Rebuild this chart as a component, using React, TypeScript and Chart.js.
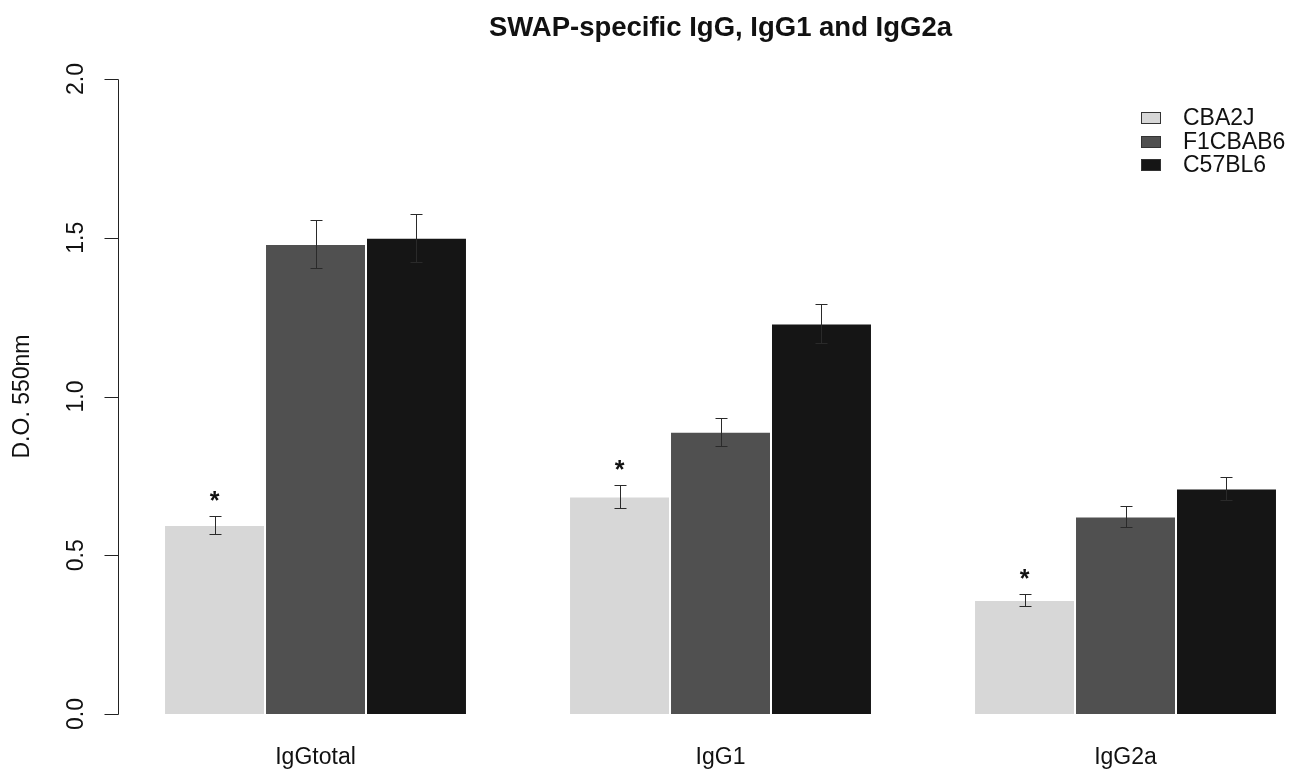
import React, { useEffect, useRef } from "react";
import { Chart, registerables } from "chart.js";

Chart.register(...registerables);

const titleText = "SWAP-specific IgG, IgG1 and IgG2a";
const yAxisTitle = "D.O. 550nm";
const categories = ["IgGtotal", "IgG1", "IgG2a"];
const seriesNames = ["CBA2J", "F1CBAB6", "C57BL6"];
const seriesColors = ["#d7d7d7", "#505050", "#151515"];

const cba2jValues = [0.595, 0.685, 0.359];
const cba2jErrors = [0.029, 0.036, 0.018];
const f1cbab6Values = [1.48, 0.889, 0.622];
const f1cbab6Errors = [0.075, 0.044, 0.033];
const c57bl6Values = [1.5, 1.23, 0.71];
const c57bl6Errors = [0.076, 0.061, 0.037];
const cba2jMarks = ["*", "*", "*"];

const yTicks = [0, 0.5, 1.0, 1.5, 2.0];
const yTickLabels = ["0.0", "0.5", "1.0", "1.5", "2.0"];

const seriesValues = [cba2jValues, f1cbab6Values, c57bl6Values];
const seriesErrors = [cba2jErrors, f1cbab6Errors, c57bl6Errors];
const seriesMarks = [cba2jMarks, null, null];

const FONT = "'Liberation Sans', Arial, Helvetica, sans-serif";
const TEXT = "#111111";

const decorPlugin = {
  id: "decor",
  afterDatasetsDraw(chart: any) {
    const ctx = chart.ctx;
    const y = chart.scales.y;
    ctx.save();
    ctx.strokeStyle = "#2a2a2a";
    ctx.lineWidth = 1;
    chart.data.datasets.forEach((ds: any, di: number) => {
      const meta = chart.getDatasetMeta(di);
      const errs = seriesErrors[di];
      meta.data.forEach((bar: any, i: number) => {
        const v = seriesValues[di][i];
        const e = errs[i];
        const x = Math.round(bar.x) + 0.5;
        const yTop = Math.round(y.getPixelForValue(v + e)) + 0.5;
        const yBot = Math.round(y.getPixelForValue(v - e)) + 0.5;
        ctx.beginPath();
        ctx.moveTo(x, yTop);
        ctx.lineTo(x, yBot);
        ctx.moveTo(x - 6, yTop);
        ctx.lineTo(x + 6, yTop);
        ctx.moveTo(x - 6, yBot);
        ctx.lineTo(x + 6, yBot);
        ctx.stroke();
        const marks = seriesMarks[di];
        if (marks && marks[i]) {
          ctx.fillStyle = TEXT;
          ctx.font = `bold 25px ${FONT}`;
          ctx.textAlign = "center";
          ctx.textBaseline = "alphabetic";
          ctx.fillText(marks[i], bar.x, yTop - 22 + 14.5);
        }
      });
    });
    ctx.restore();
  },
  afterDraw(chart: any) {
    const ctx = chart.ctx;
    const y = chart.scales.y;
    const x = chart.scales.x;
    const area = chart.chartArea;
    ctx.save();
    const ax = area.left - 0.5;
    ctx.strokeStyle = "#222222";
    ctx.lineWidth = 1;
    ctx.beginPath();
    const y0 = Math.round(y.getPixelForValue(yTicks[0])) + 0.5;
    const y1 = Math.round(y.getPixelForValue(yTicks[yTicks.length - 1])) + 0.5;
    ctx.moveTo(ax, y0);
    ctx.lineTo(ax, y1);
    yTicks.forEach((t) => {
      const py = Math.round(y.getPixelForValue(t)) + 0.5;
      ctx.moveTo(ax - 14, py);
      ctx.lineTo(ax, py);
    });
    ctx.stroke();

    ctx.fillStyle = TEXT;
    ctx.font = `23px ${FONT}`;
    ctx.textAlign = "center";
    ctx.textBaseline = "alphabetic";
    yTicks.forEach((t, i) => {
      const py = y.getPixelForValue(t);
      ctx.save();
      ctx.translate(83, py);
      ctx.rotate(-Math.PI / 2);
      ctx.fillText(yTickLabels[i], 0, 0);
      ctx.restore();
    });

    ctx.save();
    ctx.translate(29, (area.top + area.bottom) / 2);
    ctx.rotate(-Math.PI / 2);
    ctx.fillText(yAxisTitle, 0, 0);
    ctx.restore();

    categories.forEach((c, i) => {
      ctx.fillText(c, x.getPixelForValue(i), 764);
    });

    ctx.font = `bold 27.5px ${FONT}`;
    const cx = (x.getPixelForValue(0) + x.getPixelForValue(categories.length - 1)) / 2;
    ctx.fillText(titleText, cx, 36);

    ctx.font = `23px ${FONT}`;
    ctx.textAlign = "left";
    ctx.textBaseline = "middle";
    seriesNames.forEach((name, i) => {
      const cy = 118 + i * 23.5;
      ctx.fillStyle = seriesColors[i];
      ctx.fillRect(1141, Math.round(cy - 6), 20, 12);
      ctx.strokeStyle = "#333333";
      ctx.strokeRect(1141.5, Math.round(cy - 6) + 0.5, 19, 11);
      ctx.fillStyle = TEXT;
      ctx.fillText(name, 1183, cy + 1);
    });
    ctx.restore();
  },
};

export default function App() {
  const canvasRef = useRef<HTMLCanvasElement | null>(null);

  useEffect(() => {
    const canvas = canvasRef.current;
    if (!canvas) return;
    const chart = new Chart(canvas, {
      type: "bar",
      data: {
        datasets: seriesNames.map((name, di) => ({
          label: name,
          data: categories.map((_, i) => ({ x: i, y: seriesValues[di][i] })),
          backgroundColor: seriesColors[di],
          borderColor: "#ffffff",
          borderWidth: 1,
          categoryPercentage: 0.748,
          barPercentage: 1,
        })),
      },
      options: {
        responsive: false,
        animation: false,
        events: [],
        layout: { padding: { top: 79, bottom: 58, left: 119, right: 0 } },
        plugins: {
          legend: { display: false },
          title: { display: false },
          tooltip: { enabled: false },
        },
        scales: {
          x: {
            type: "linear",
            display: false,
            offset: false,
            min: -0.4852,
            max: 2.4185,
            afterBuildTicks: (scale: any) => {
              scale.ticks = categories.map((_, i) => ({ value: i }));
            },
          },
          y: {
            display: false,
            min: 0,
            max: 2,
          },
        },
      },
      plugins: [decorPlugin],
    } as any);
    return () => chart.destroy();
  }, []);

  return (
    <div style={{ position: "fixed", left: 0, top: 0, width: 1295, height: 772, background: "#ffffff" }}>
      <canvas ref={canvasRef} width={1295} height={772} style={{ display: "block" }} />
    </div>
  );
}
